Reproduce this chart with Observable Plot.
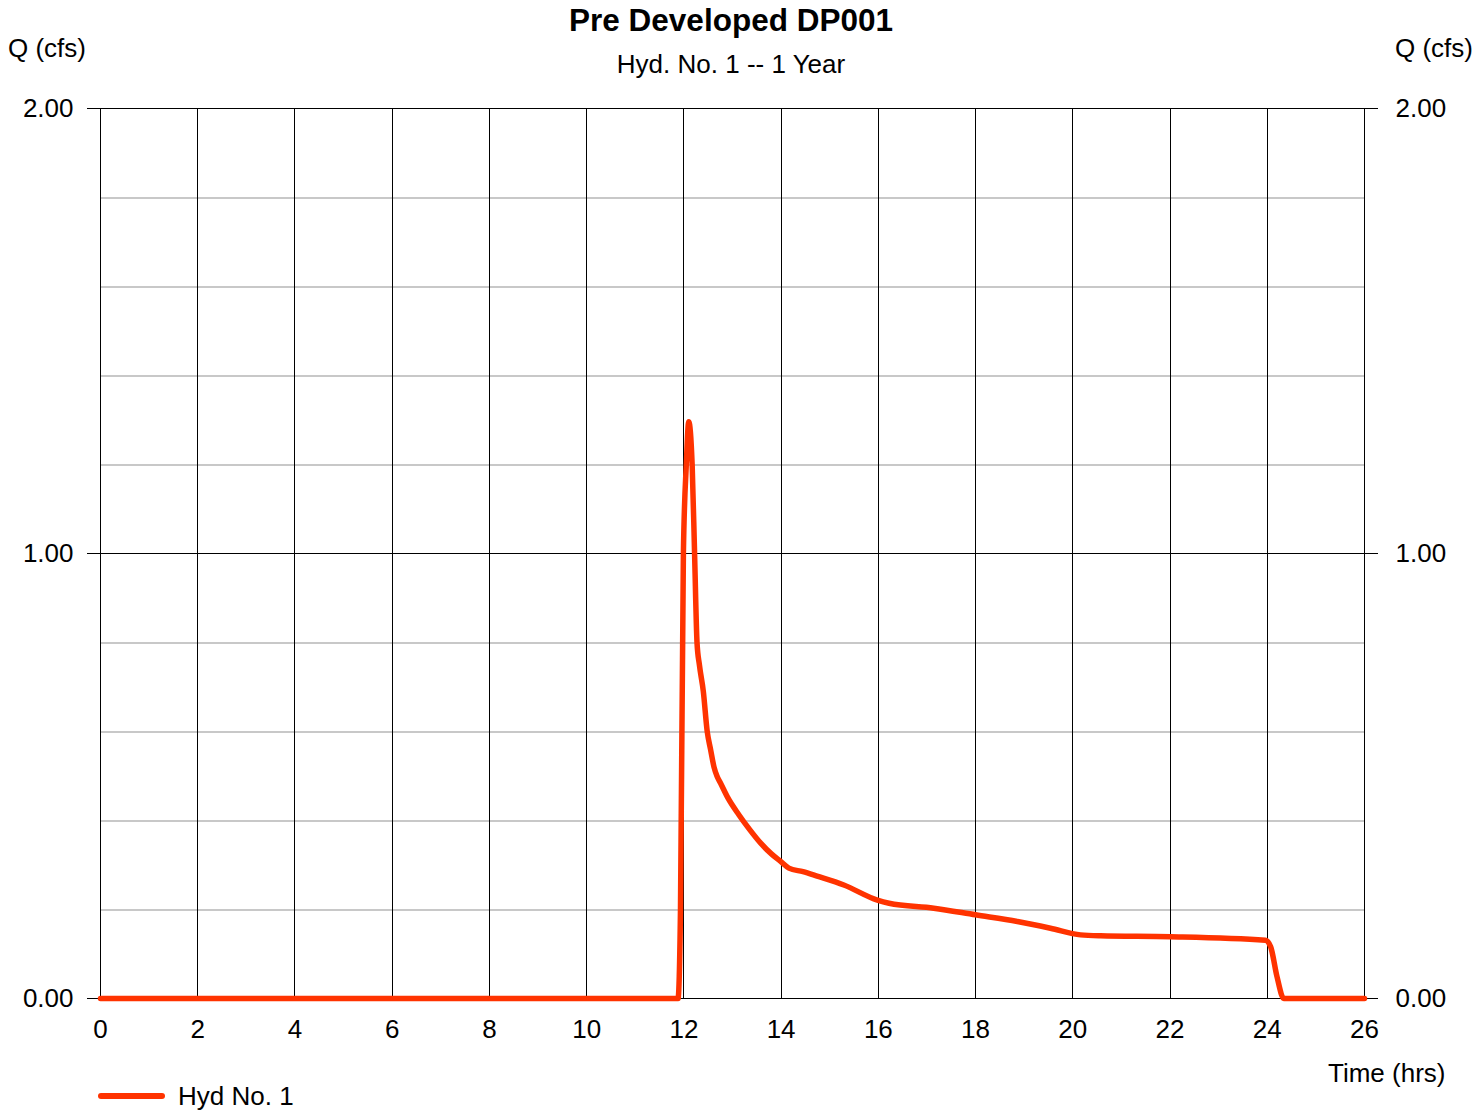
<!DOCTYPE html>
<html>
<head>
<meta charset="utf-8">
<script src="https://cdn.jsdelivr.net/npm/d3@7"></script>
<script src="https://cdn.jsdelivr.net/npm/@observablehq/plot@0.6"></script>
<style>
  body { margin: 0; background: white; font-family: "Liberation Sans", Arial, sans-serif; }
  #wrap { position: relative; width: 1473px; height: 1114px; overflow: hidden; }
  .lbl { position: absolute; white-space: nowrap; line-height: 1; color: black; }
</style>
</head>
<body>
<div id="wrap">
  <div id="chart" style="position:absolute;left:0;top:0;"></div>
  <div class="lbl" style="left:0;width:1462px;text-align:center;top:5px;font-size:31.5px;font-weight:bold;">Pre Developed DP001</div>
  <div class="lbl" style="left:0;width:1462px;text-align:center;top:51px;font-size:26px;">Hyd. No. 1 -- 1 Year</div>
  <div class="lbl" style="left:8px;top:35px;font-size:26px;">Q (cfs)</div>
  <div class="lbl" style="left:1395px;top:35px;font-size:26px;">Q (cfs)</div>
  <div class="lbl" style="left:1328px;top:1060px;font-size:26px;">Time (hrs)</div>
  <div style="position:absolute;left:98px;top:1093px;width:67px;height:6px;border-radius:3px;background:#ff3300;"></div>
  <div class="lbl" style="left:178px;top:1083px;font-size:26px;">Hyd No. 1</div>
</div>
<script>
// Hydrograph values
const timeHrs = [0, 11.88, 11.93, 11.99, 12.05, 12.10, 12.17, 12.22, 12.27, 12.32, 12.40, 12.48, 12.55, 12.62, 12.68, 12.75, 12.90, 13.13, 13.35, 13.58, 13.80, 13.99, 14.16, 14.45, 14.74, 15.29, 15.98, 16.22, 17.14, 18.00, 18.86, 19.54, 20.16, 20.57, 22.01, 23.96, 24.07, 24.20, 24.34, 26];
const flowCfs = [0, 0, 0.2, 1.0, 1.2, 1.296, 1.2, 1.0, 0.8, 0.749, 0.69, 0.60, 0.559, 0.52, 0.50, 0.485, 0.452, 0.413, 0.38, 0.349, 0.325, 0.308, 0.293, 0.285, 0.275, 0.255, 0.221, 0.214, 0.203, 0.188, 0.173, 0.158, 0.143, 0.141, 0.139, 0.131, 0.116, 0.049, 0, 0];
const xTicks = [0, 2, 4, 6, 8, 10, 12, 14, 16, 18, 20, 22, 24, 26];
const yMajor = [0, 1, 2];
const yMinor = [0.2, 0.4, 0.6, 0.8, 1.2, 1.4, 1.6, 1.8];
const seriesName = "Hyd No. 1";

const data = timeHrs.map((t, i) => ({t, q: flowCfs[i], series: seriesName}));

const chart = Plot.plot({
  width: 1473,
  height: 1114,
  marginTop: 108,
  marginBottom: 116,
  marginLeft: 100,
  marginRight: 109,
  style: {fontSize: "26px", fontFamily: "'Liberation Sans', Arial, sans-serif", background: "white", color: "black"},
  x: {domain: [0, 26]},
  y: {domain: [0, 2]},
  marks: [
    Plot.ruleY(yMinor, {stroke: "#c8c8c8", strokeWidth: 2, shapeRendering: "crispEdges"}),
    Plot.ruleX(xTicks, {stroke: "black", strokeWidth: 1, shapeRendering: "crispEdges"}),
    Plot.ruleY(yMajor, {stroke: "black", strokeWidth: 1, shapeRendering: "crispEdges"}),
    Plot.frame({stroke: "black", strokeWidth: 1, shapeRendering: "crispEdges"}),
    Plot.axisX({ticks: xTicks, tickSize: 0, tickPadding: 21, tickFormat: d => String(d), label: null}),
    Plot.axisY({anchor: "left", ticks: yMajor, tickSize: 13, tickPadding: 14, tickFormat: d => d.toFixed(2), label: null, shapeRendering: "crispEdges"}),
    Plot.axisY({anchor: "right", ticks: yMajor, tickSize: 13, tickPadding: 18, tickFormat: d => d.toFixed(2), label: null, shapeRendering: "crispEdges"}),
    Plot.line(data, {x: "t", y: "q", stroke: "#ff3300", strokeWidth: 5.5, strokeLinejoin: "round", strokeLinecap: "round", curve: "monotone-x"})
  ]
});
document.getElementById("chart").appendChild(chart);
</script>
</body>
</html>
